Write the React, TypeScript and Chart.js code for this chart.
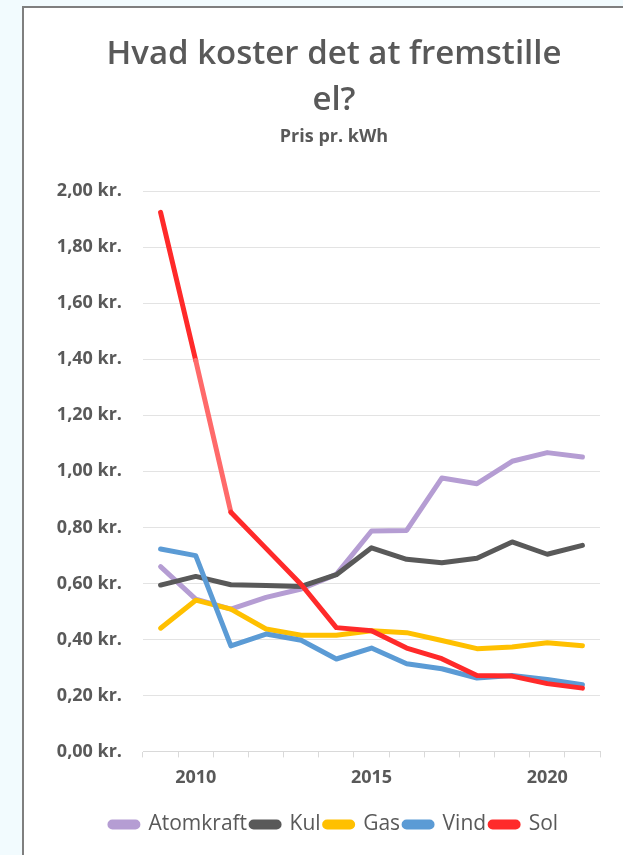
import React, { useEffect, useRef } from "react";
import { Chart, registerables } from "chart.js";

Chart.register(...registerables);

const years = ["2009", "2010", "2011", "2012", "2013", "2014", "2015", "2016", "2017", "2018", "2019", "2020", "2021"];
const atomkraft = [0.66, 0.544, 0.508, 0.55, 0.58, 0.632, 0.787, 0.789, 0.976, 0.956, 1.036, 1.067, 1.051];
const kul = [0.594, 0.625, 0.595, 0.592, 0.589, 0.631, 0.727, 0.686, 0.674, 0.69, 0.748, 0.704, 0.736];
const gas = [0.44, 0.54, 0.508, 0.437, 0.415, 0.415, 0.431, 0.424, 0.396, 0.367, 0.373, 0.388, 0.377];
const vind = [0.723, 0.699, 0.377, 0.419, 0.397, 0.33, 0.369, 0.313, 0.295, 0.262, 0.271, 0.257, 0.238];
const sol = [1.925, 1.396, 0.854, 0.725, 0.596, 0.442, 0.431, 0.369, 0.331, 0.271, 0.269, 0.242, 0.226];
const yTicks = [0, 0.2, 0.4, 0.6, 0.8, 1.0, 1.2, 1.4, 1.6, 1.8, 2.0];

const FONT = "'Open Sans', 'Noto Sans', sans-serif";
const TXT = "#595959";

export default function App() {
  const ref = useRef<HTMLCanvasElement>(null);
  useEffect(() => {
    if (!ref.current) return;
    const mk = (label: string, data: number[], color: string, order: number, extra: any = {}) => ({
      label,
      data,
      borderColor: color,
      backgroundColor: color,
      borderWidth: 5,
      pointRadius: 0,
      pointHoverRadius: 0,
      tension: 0,
      fill: false,
      borderCapStyle: "round",
      borderJoinStyle: "round",
      yAxisID: "y",
      order,
      ...extra,
    });
    const chart = new Chart(ref.current, {
      type: "line",
      data: {
        labels: years,
        datasets: [
          mk("Atomkraft", atomkraft, "#b59dd3", 4),
          mk("Kul", kul, "#595959", 3),
          mk("Gas", gas, "#ffc000", 2),
          mk("Vind", vind, "#5b9bd5", 1),
          mk("Sol", sol, "#ff2a2a", 0, {
            segment: {
              borderColor: (ctx: any) => (ctx.p0DataIndex === 1 ? "#ff6a6a" : "#ff2a2a"),
            },
          }),
        ],
      },
      options: {
        animation: false,
        responsive: false,
        maintainAspectRatio: false,
        layout: { padding: { left: 0, right: 0, top: 24, bottom: 10 } },
        plugins: {
          title: {
            display: true,
            text: ["Hvad koster det at fremstille", "el?"],
            color: TXT,
            font: { family: FONT, size: 33, weight: "600", lineHeight: 1.39 },
            padding: { top: 0, bottom: 2 },
          },
          subtitle: {
            display: true,
            text: "Pris pr. kWh",
            color: TXT,
            font: { family: FONT, size: 18, weight: "bold" },
            padding: { top: 0, bottom: 44 },
          },
          legend: {
            position: "bottom",
            labels: {
              color: TXT,
              font: { family: FONT, size: 21 },
              boxWidth: 28,
              boxHeight: 5,
              useBorderRadius: true,
              borderRadius: 2.5,
              padding: 4,
              sort: (a: any, b: any) => a.datasetIndex - b.datasetIndex,
            },
          },
          tooltip: { enabled: false },
        },
        scales: {
          x: {
            offset: true,
            afterFit: (s: any) => {
              s.height = 58.6;
            },
            grid: {
              offset: true,
              drawOnChartArea: false,
              drawTicks: true,
              tickLength: 6,
              color: "#d9d9d9",
            },
            border: { color: "#d9d9d9", width: 1 },
            ticks: {
              autoSkip: false,
              maxRotation: 0,
              color: TXT,
              font: { family: FONT, size: 18, weight: "bold" },
              padding: 10,
              callback: (_v: any, i: number) => (Number(years[i]) % 5 === 0 ? years[i] : ""),
            },
          },
          y: {
            min: 0,
            max: 2,
            afterFit: (s: any) => {
              s.width = 119;
            },
            afterBuildTicks: (s: any) => {
              s.ticks = yTicks.map((v) => ({ value: v }));
            },
            grid: { color: "#e3e3e3", drawTicks: false, lineWidth: 1 },
            border: { display: false },
            ticks: {
              padding: 21,
              color: TXT,
              font: { family: FONT, size: 18, weight: "bold" },
              callback: (v: any) => Number(v).toFixed(2).replace(".", ",") + " kr.",
            },
          },
          yr: {
            type: "linear",
            position: "right",
            display: true,
            min: 0,
            max: 2,
            afterFit: (s: any) => {
              s.width = 44;
            },
            grid: { display: false, drawOnChartArea: false, drawTicks: false },
            border: { display: false },
            ticks: { display: false },
          },
        },
      },
    } as any);
    return () => chart.destroy();
  }, []);

  return (
    <div style={{ position: "fixed", inset: 0, background: "#f2fbfe", overflow: "hidden" }}>
      <div
        style={{
          position: "absolute",
          left: 22,
          top: 6,
          width: 622,
          height: 860,
          background: "#ffffff",
          borderLeft: "2px solid #7f7f7f",
          borderTop: "2px solid #7f7f7f",
        }}
      >
        <canvas ref={ref} width={620} height={847} style={{ display: "block" }} />
      </div>
    </div>
  );
}
